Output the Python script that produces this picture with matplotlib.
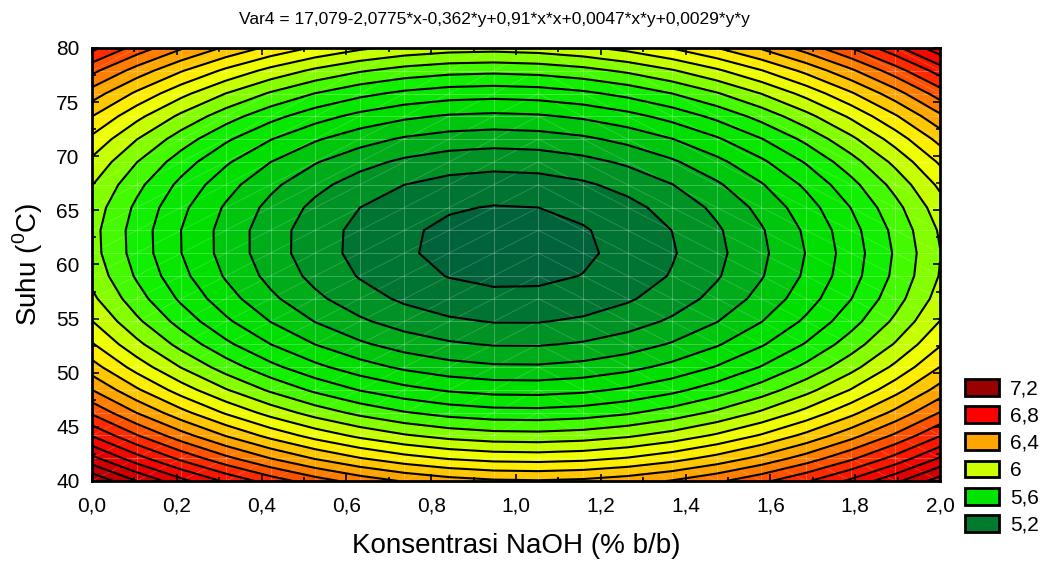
import numpy as np
import matplotlib
matplotlib.use("Agg")
import matplotlib.pyplot as plt
from matplotlib.colors import LinearSegmentedColormap, ListedColormap, BoundaryNorm
from matplotlib.collections import LineCollection
from matplotlib.patches import Patch
from matplotlib.ticker import MultipleLocator, FuncFormatter

plt.rcParams["font.family"] = ["Liberation Sans", "DejaVu Sans"]
plt.rcParams["mathtext.fontset"] = "custom"
plt.rcParams["mathtext.rm"] = "Liberation Sans"

# Koefisien model (dibaca dari judul grafik)
b0, bx, by, bxx, bxy, byy = 17.079, -2.0775, -0.362, 0.91, 0.0047, 0.0029
title_text = "Var4 = 17,079-2,0775*x-0,362*y+0,91*x*x+0,0047*x*y+0,0029*y*y"

# Rentang dan resolusi grid (seperti di Statistica)
x_range = (0.0, 2.0)
y_range = (40.0, 80.0)
n_grid = 20

# Level garis kontur dan warna legenda
contour_levels = np.round(np.arange(4.95, 7.36, 0.1), 2)
legend_labels = ["7,2", "6,8", "6,4", "6", "5,6", "5,2"]
legend_colors = ["#990000", "#ff0000", "#ffa500", "#ccff00", "#00e400", "#007a2e"]

# Titik jangkar skala warna (nilai, warna)
cmap_anchor_vals = [4.85, 5.0, 5.15, 5.4, 5.6, 5.75, 5.9, 6.05, 6.3, 6.6, 6.85, 7.3]
cmap_anchor_cols = ["#005a3e", "#007530", "#00a020", "#00e000", "#10f000", "#60ff00",
                    "#c8ff00", "#ffff00", "#ffa500", "#ff2a00", "#ee0000", "#990000"]

xg = np.linspace(*x_range, n_grid)
yg = np.linspace(*y_range, n_grid)
X, Y = np.meshgrid(xg, yg)
Z = b0 + bx * X + by * Y + bxx * X * X + bxy * X * Y + byy * Y * Y

# Warna per pita = warna pada titik tengah pita
vmin, vmax = cmap_anchor_vals[0], cmap_anchor_vals[-1]
base = LinearSegmentedColormap.from_list(
    "stat", [((v - vmin) / (vmax - vmin), c) for v, c in zip(cmap_anchor_vals, cmap_anchor_cols)])
bounds = np.concatenate([[4.0], contour_levels, [9.0]])
mids = np.concatenate([[4.9], (contour_levels[:-1] + contour_levels[1:]) / 2, [7.3]])
band_cols = [base(np.clip((m - vmin) / (vmax - vmin), 0, 1)) for m in mids]
cmap = ListedColormap(band_cols)
norm = BoundaryNorm(bounds, cmap.N)

fig = plt.figure(figsize=(10.46, 5.63), dpi=100)
ax = fig.add_axes([92 / 1046, 82 / 563, 848 / 1046, 433 / 563])

ax.contourf(X, Y, Z, levels=bounds, cmap=cmap, norm=norm)

# grid triangulasi samar
ax.vlines(xg, y_range[0], y_range[1], color="white", alpha=0.25, lw=0.7)
ax.hlines(yg, x_range[0], x_range[1], color="white", alpha=0.25, lw=0.7)
segs = []
for i in range(n_grid - 1):
    for j in range(n_grid - 1):
        if i < n_grid // 2:
            segs.append([(xg[i], yg[j]), (xg[i + 1], yg[j + 1])])
        else:
            segs.append([(xg[i], yg[j + 1]), (xg[i + 1], yg[j])])
ax.add_collection(LineCollection(segs, colors="white", alpha=0.2, linewidths=0.6))

ax.contour(X, Y, Z, levels=contour_levels, colors="black", linewidths=1.5)

ax.set_xlim(*x_range)
ax.set_ylim(*y_range)
ax.xaxis.set_major_locator(MultipleLocator(0.2))
ax.xaxis.set_minor_locator(MultipleLocator(0.1))
ax.yaxis.set_major_locator(MultipleLocator(5))
ax.yaxis.set_minor_locator(MultipleLocator(2.5))
ax.xaxis.set_major_formatter(FuncFormatter(lambda v, p: f"{v:.1f}".replace(".", ",")))
ax.yaxis.set_major_formatter(FuncFormatter(lambda v, p: f"{v:.0f}"))
ax.tick_params(which="both", direction="in", top=True, right=True, width=1.2)
ax.tick_params(which="major", length=5, labelsize=15)
ax.tick_params(axis="x", which="major", pad=11)
ax.tick_params(axis="y", which="major", pad=9)
ax.tick_params(which="minor", length=3)
for s in ax.spines.values():
    s.set_linewidth(2)

ax.set_xlabel("Konsentrasi NaOH (% b/b)", fontsize=20, labelpad=13)
ax.set_ylabel("Suhu ($^{0}$C)", fontsize=20, labelpad=8)
fig.text(0.473, 0.966, title_text, fontsize=12.5, ha="center", va="center")

handles = [Patch(facecolor=c, edgecolor="black", linewidth=2) for c in legend_colors]
fig.legend(handles, legend_labels, loc="upper left",
           bbox_to_anchor=(965 / 1046, 1 - 379 / 563),
           frameon=False, fontsize=15, handlelength=1.65, handleheight=0.85,
           labelspacing=0.37, handletextpad=0.5, borderpad=0, borderaxespad=0)

fig.savefig("out.png", dpi=100)
